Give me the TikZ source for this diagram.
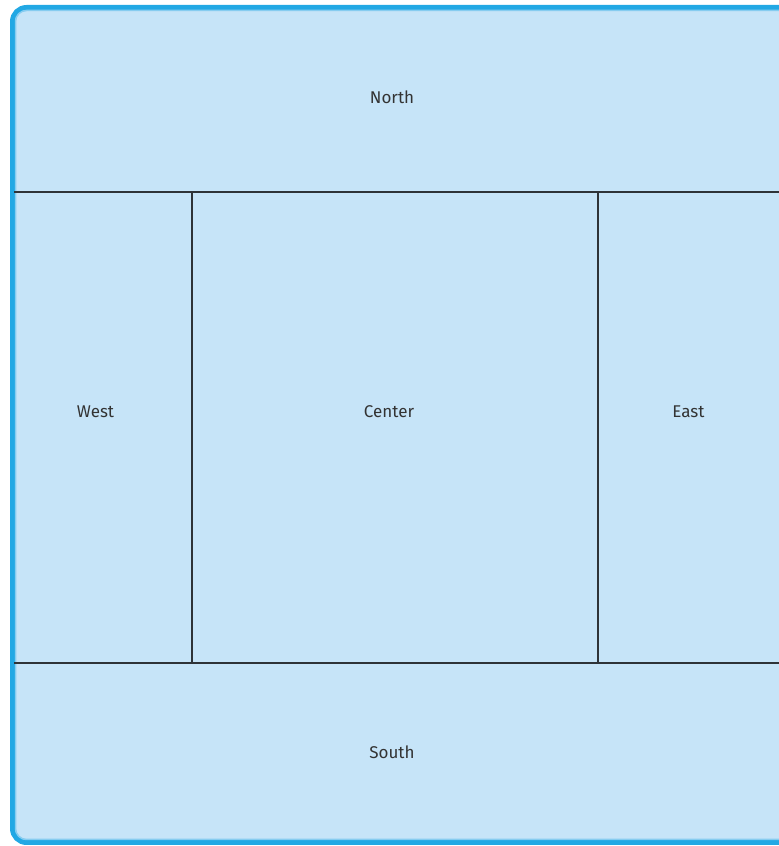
\documentclass[tikz,border=0pt]{standalone}
\usepackage{fontspec}
\setmainfont{Fira Sans}
\definecolor{panefill}{HTML}{C6E4F8}
\definecolor{paneedge}{HTML}{22A8E4}
\definecolor{paneglow}{HTML}{86CCF0}
\definecolor{divider}{HTML}{2E3338}
\tikzset{region/.style={font=\fontsize{17}{20}\selectfont,text=black!80}}
\begin{document}
\begin{tikzpicture}[x=1pt,y=1pt]
\useasboundingbox(0,0) rectangle (779,846);\clip(0,0) rectangle (779,846);
\draw[fill=panefill,draw=paneedge,line width=5,rounded corners=14](12.5,3.5) rectangle (820,838.5);
\draw[draw=paneglow,line width=1.5,rounded corners=11](15.5,6.5) rectangle (820,835.5);
\draw[divider,line width=1.3](14,654)--(779,654);\draw[divider,line width=1.3](14,183)--(779,183);
\draw[divider,line width=1.3](192,183)--(192,654);\draw[divider,line width=1.3](598,183)--(598,654);
\node[region] (north) at(392,749){North};\node[region] (south) at(392,94){South};
\node[region] (west) at(95.5,434){West};\node[region] (center) at(389,434){Center};\node[region] (east) at(688.5,434){East};
\end{tikzpicture}
\end{document}
